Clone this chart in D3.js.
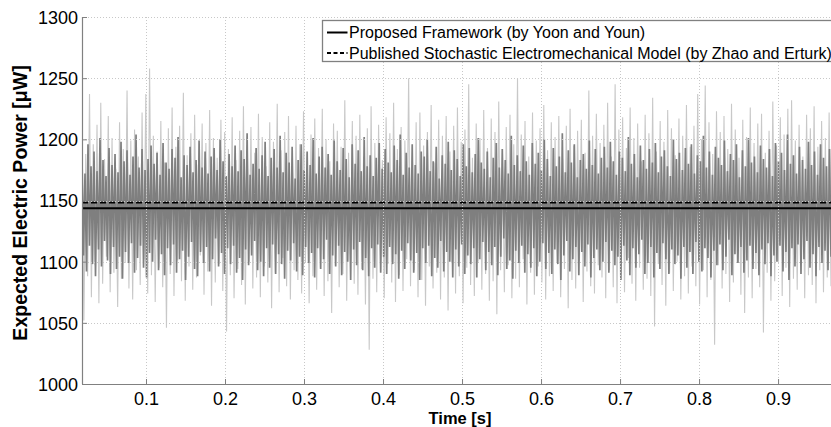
<!DOCTYPE html>
<html><head><meta charset="utf-8">
<script src="https://cdn.jsdelivr.net/npm/d3@7"></script>
<style>body{margin:0;background:#fff}svg{display:block}text{font-family:"Liberation Sans",Arial,sans-serif}</style>
</head><body><svg id="c" width="831" height="427"></svg>
<script>
// ---- data ----
const timeRange = [0.019, 0.967];
const xTicks = [0.1,0.2,0.3,0.4,0.5,0.6,0.7,0.8,0.9];
const yTicks = [1000,1050,1100,1150,1200,1250,1300];
const legendLabels = ["Proposed Framework (by Yoon and Youn)","Published Stochastic Electromechanical Model (by Zhao and Erturk)"];
const meanProposed = 1143.6;
const meanPublished = 1148.3;
// light gray sample spikes: upper peaks and lower troughs
const lightHigh = [1205,1188,1237,1196,1212,1230,1184,1219,1201,1176,1214,1192,1240,1199,1208,1186,1222,1237,1258,1203,
1190,1215,1181,1209,1226,1194,1211,1238,1187,1205,1220,1179,1213,1197,1224,1201,1185,1216,1206,1192,
1218,1183,1207,1227,1195,1210,1189,1221,1202,1178,1214,1198,1229,1191,1206,1219,1184,1211,1196,1223,
1188,1204,1217,1193,1225,1200,1182,1213,1207,1194,1232,1189,1215,1203,1220,1186,1209,1227,1197,1212,
1183,1218,1205,1230,1192,1210,1199,1250,1187,1214,1222,1195,1206,1228,1181,1216,1203,1219,1190,1211,
1226,1198,1208,1245,1185,1213,1201,1224,1193,1217,1206,1231,1188,1210,1220,1196,1250,1204,1215,1186,
1222,1199,1209,1228,1191,1214,1202,1219,1184,1211,1225,1195,1207,1216,1189,1240,1203,1221,1197,1212,
1230,1186,1245,1208,1218,1193,1226,1201,1213,1182,1220,1205,1234,1190,1215,1198,1224,1209,1187,1217,
1203,1228,1194,1211,1237,1200,1244,1214,1188,1223,1206,1219,1192,1229,1208,1185,1216,1202,1226,1197,
1213,1221,1189,1207,1231,1195,1218,1204,1225,1232,1199,1212,1186,1220,1209,1227,1194,1215,1201,1222];
const lightLow = [1052,1088,1071,1097,1066,1082,1104,1075,1091,1063,1086,1099,1078,1069,1093,1081,1102,1074,1089,1067,
1095,1079,1046,1090,1072,1101,1084,1068,1096,1077,1087,1105,1073,1092,1064,1083,1098,1076,1043,1089,
1070,1094,1081,1065,1100,1078,1087,1071,1096,1083,1062,1091,1075,1103,1080,1069,1093,1085,1074,1099,
1066,1088,1077,1095,1072,1084,1058,1097,1079,1090,1068,1101,1082,1073,1094,1065,1028,1086,1075,1092,
1070,1098,1083,1067,1089,1076,1102,1080,1093,1071,1085,1064,1096,1078,1091,1069,1087,1060,1099,1074,
1088,1066,1095,1081,1072,1100,1077,1090,1068,1084,1057,1093,1075,1097,1070,1086,1079,1102,1065,1091,
1073,1096,1083,1069,1088,1076,1099,1071,1094,1062,1085,1078,1101,1067,1092,1080,1074,1097,1087,1070,
1093,1079,1066,1090,1075,1103,1082,1068,1095,1077,1086,1072,1047,1098,1081,1064,1091,1076,1100,1069,
1088,1074,1096,1080,1065,1093,1071,1085,1032,1097,1078,1090,1067,1083,1099,1073,1058,1087,1070,1094,
1079,1042,1091,1068,1084,1100,1072,1095,1063,1086,1077,1098,1070,1089,1081,1066,1093,1075,1087,1080];
// dark gray sample band: upper and lower excursions
const darkHigh = [1185,1172,1196,1178,1190,1174,1201,1183,1170,1193,1179,1188,1173,1198,1182,1191,1171,1186,1204,1177,1192,1175,1184,1195,1180,
1189,1171,1197,1181,1176,1192,1185,1202,1169,1187,1179,1194,1173,1183,1199,1177,1190,1172,1186,1193,1175,1200,1182,1170,1188,
1178,1195,1174,1191,1184,1205,1171,1180,1193,1176,1187,1198,1170,1185,1192,1177,1203,1173,1189,1181,1194,1168,1183,1196,1175,
1190,1179,1201,1172,1186,1194,1177,1188,1171,1199,1182,1175,1193,1184,1169,1196,1180,1191,1174,1202,1178,1187,1170,1185,1197,
1176,1192,1181,1173,1195,1183,1204,1171,1189,1177,1196,1179,1172,1190,1186,1200,1174,1182,1194,1168,1187,1180,1198,1175,1191,
1184,1170,1196,1178,1193,1173,1188,1201,1181,1176,1190,1169,1185,1197,1177,1192,1183,1172,1203,1179,1187,1174,1195,1182,1171,
1197,1180,1189,1175,1200,1184,1170,1193,1178,1186,1205,1173,1191,1181,1196,1169,1183,1188,1176,1199,1179,1192,1172,1185,1194,
1177,1198,1182,1171,1190,1185,1174,1202,1180,1188,1169,1195,1183,1176,1192,1181,1197,1173,1186,1191,1178,1170,1200,1184,1189,
1175,1193,1180,1196,1172,1187,1182,1203,1177,1190,1171,1194,1185,1179,1199,1174,1188,1183,1196,1169,1191,1178,1201,1181,1186,
1173,1195,1184,1177,1192,1170,1197,1182,1189,1175,1204,1180,1187,1172,1194,1183,1176,1198,1179,1190,1171,1196,1185,1178,1192];
const darkLow = [1105,1092,1113,1098,1088,1110,1096,1117,1101,1090,1112,1094,1104,1086,1108,1099,1115,1091,1103,1113,1095,1087,1107,1100,1118,
1093,1106,1089,1111,1097,1114,1091,1102,1109,1085,1104,1116,1094,1088,1108,1099,1112,1092,1102,1119,1096,1107,1090,1111,1098,
1113,1091,1103,1085,1110,1097,1105,1117,1093,1100,1088,1111,1095,1114,1090,1106,1098,1086,1109,1101,1115,1092,1104,1089,1112,
1099,1107,1087,1111,1094,1102,1118,1090,1105,1096,1113,1089,1108,1100,1085,1110,1097,1116,1093,1103,1088,1111,1095,1114,1091,
1104,1090,1112,1098,1106,1086,1109,1094,1115,1101,1091,1107,1085,1111,1099,1113,1088,1103,1095,1117,1092,1108,1100,1087,1110,
1096,1114,1090,1105,1098,1111,1087,1102,1116,1093,1108,1097,1112,1089,1104,1119,1094,1101,1086,1109,1099,1113,1091,1106,1095,
1111,1088,1100,1115,1094,1107,1090,1110,1098,1085,1105,1117,1092,1102,1112,1089,1108,1096,1114,1087,1103,1110,1093,1100,1116,
1091,1109,1097,1104,1085,1113,1101,1089,1111,1095,1106,1118,1090,1099,1112,1087,1107,1094,1115,1102,1090,1110,1098,1105,1086,
1112,1095,1108,1090,1116,1100,1092,1111,1103,1087,1109,1097,1114,1093,1104,1118,1089,1106,1099,1112,1091,1101,1113,1094,1107,
1089,1110,1098,1115,1088,1105,1100,1113,1092,1108,1085,1111,1096,1114,1090,1102,1117,1095,1106,1088,1112,1099,1109,1093,1104];

// ---- chart ----
const FONT = "'Liberation Sans', Arial, sans-serif";
const svg = d3.select("#c");
const L = 82, R = 831, T = 17, B = 384;
const x = d3.scaleLinear().domain(timeRange).range([L, R]);
const y = d3.scaleLinear().domain([1000, 1300]).range([B, T]);

function interleave(hi, lo) {
  const pts = [];
  for (let i = 0; i < hi.length; i++) { pts.push(hi[i]); pts.push(lo[i]); }
  const n = pts.length;
  return pts.map((v, i) => [timeRange[0] + (timeRange[1] - timeRange[0]) * i / (n - 1), v]);
}
const lightPts = interleave(lightHigh, lightLow);
const darkPts = interleave(darkHigh, darkLow);

svg.append("defs").append("clipPath").attr("id","clip")
  .append("rect").attr("x", L).attr("y", T).attr("width", R - L).attr("height", B - T);

const line = d3.line().x(d => x(d[0])).y(d => y(d[1]));
const g = svg.append("g").attr("clip-path","url(#clip)");
g.append("path").datum(lightPts).attr("d", line).attr("fill","none")
  .attr("stroke","#c8c8c8").attr("stroke-width",1.1);
g.append("path").datum(darkPts).attr("d", line).attr("fill","none")
  .attr("stroke","#7f7f7f").attr("stroke-width",1.7);

// grid (drawn over the data, dotted)
const grid = svg.append("g");
grid.selectAll(".gx").data(xTicks).join("line")
  .attr("x1", d => Math.round(x(d)) + 0.5).attr("x2", d => Math.round(x(d)) + 0.5)
  .attr("y1", T).attr("y2", B)
  .attr("stroke","#c8c8c8").attr("stroke-width",1).attr("stroke-dasharray","1,2");
grid.selectAll(".gy").data(yTicks.filter(v => v > 1000)).join("line")
  .attr("y1", d => Math.round(y(d)) + 0.5).attr("y2", d => Math.round(y(d)) + 0.5)
  .attr("x1", L).attr("x2", R)
  .attr("stroke","#c8c8c8").attr("stroke-width",1).attr("stroke-dasharray","1,2");

// mean lines
g.append("line").attr("x1", L).attr("x2", R)
  .attr("y1", y(meanProposed)).attr("y2", y(meanProposed))
  .attr("stroke","#000").attr("stroke-width",2);
g.append("line").attr("x1", L).attr("x2", R)
  .attr("y1", y(meanPublished)).attr("y2", y(meanPublished))
  .attr("stroke","#000").attr("stroke-width",1.8).attr("stroke-dasharray","6,3");

// axes
const axG = svg.append("g");
const xAxis = axG.append("g").attr("transform", `translate(0,${B})`)
  .call(d3.axisBottom(x).tickValues(xTicks).tickSize(-5).tickPadding(8).tickFormat(d3.format(".1f")));
const yAxis = axG.append("g").attr("transform", `translate(${L},0)`)
  .call(d3.axisLeft(y).tickValues(yTicks).tickSize(-5).tickPadding(5).tickFormat(d3.format("d")));
[xAxis, yAxis].forEach(a => {
  a.select(".domain").attr("stroke","#808080").attr("stroke-width",1.2);
  a.selectAll(".tick line").attr("stroke","#808080");
  a.selectAll(".tick text").attr("fill","#000").attr("font-size","18px").attr("font-family", FONT);
});
yAxis.select(".domain").attr("d", `M0.5,${B}V${T}`);
xAxis.select(".domain").attr("d", `M${L},0.5H${R}`);
yAxis.selectAll(".tick text").attr("dy","0.36em").attr("x", -4);

// axis labels
svg.append("text").attr("x", 460).attr("y", 423.5).attr("text-anchor","middle").attr("font-family", FONT)
  .attr("font-size","16.5px").attr("font-weight","bold").text("Time [s]");
svg.append("text").attr("transform","translate(27,203) rotate(-90)").attr("text-anchor","middle").attr("font-family", FONT)
  .attr("font-size","19.5px").attr("font-weight","bold").text("Expected Electric Power [\u03bcW]");

// legend
const lg = svg.append("g");
lg.append("rect").attr("x", 322.5).attr("y", 20.5).attr("width", 540).attr("height", 41)
  .attr("fill","#fff").attr("stroke","#808080").attr("stroke-width",1.3);
const styles = [{dash:null, w:2}, {dash:"4,2.5", w:1.8}];
legendLabels.forEach((lab, i) => {
  const cy = 32.5 + i * 20.5;
  lg.append("line").attr("x1", 327).attr("x2", 347.5).attr("y1", cy).attr("y2", cy)
    .attr("stroke","#000").attr("stroke-width", styles[i].w)
    .attr("stroke-dasharray", styles[i].dash);
  lg.append("text").attr("x", 349).attr("y", cy + 5.8).attr("font-size","16px").attr("font-family", FONT)
    .attr("fill","#000").text(lab);
});
</script></body></html>
